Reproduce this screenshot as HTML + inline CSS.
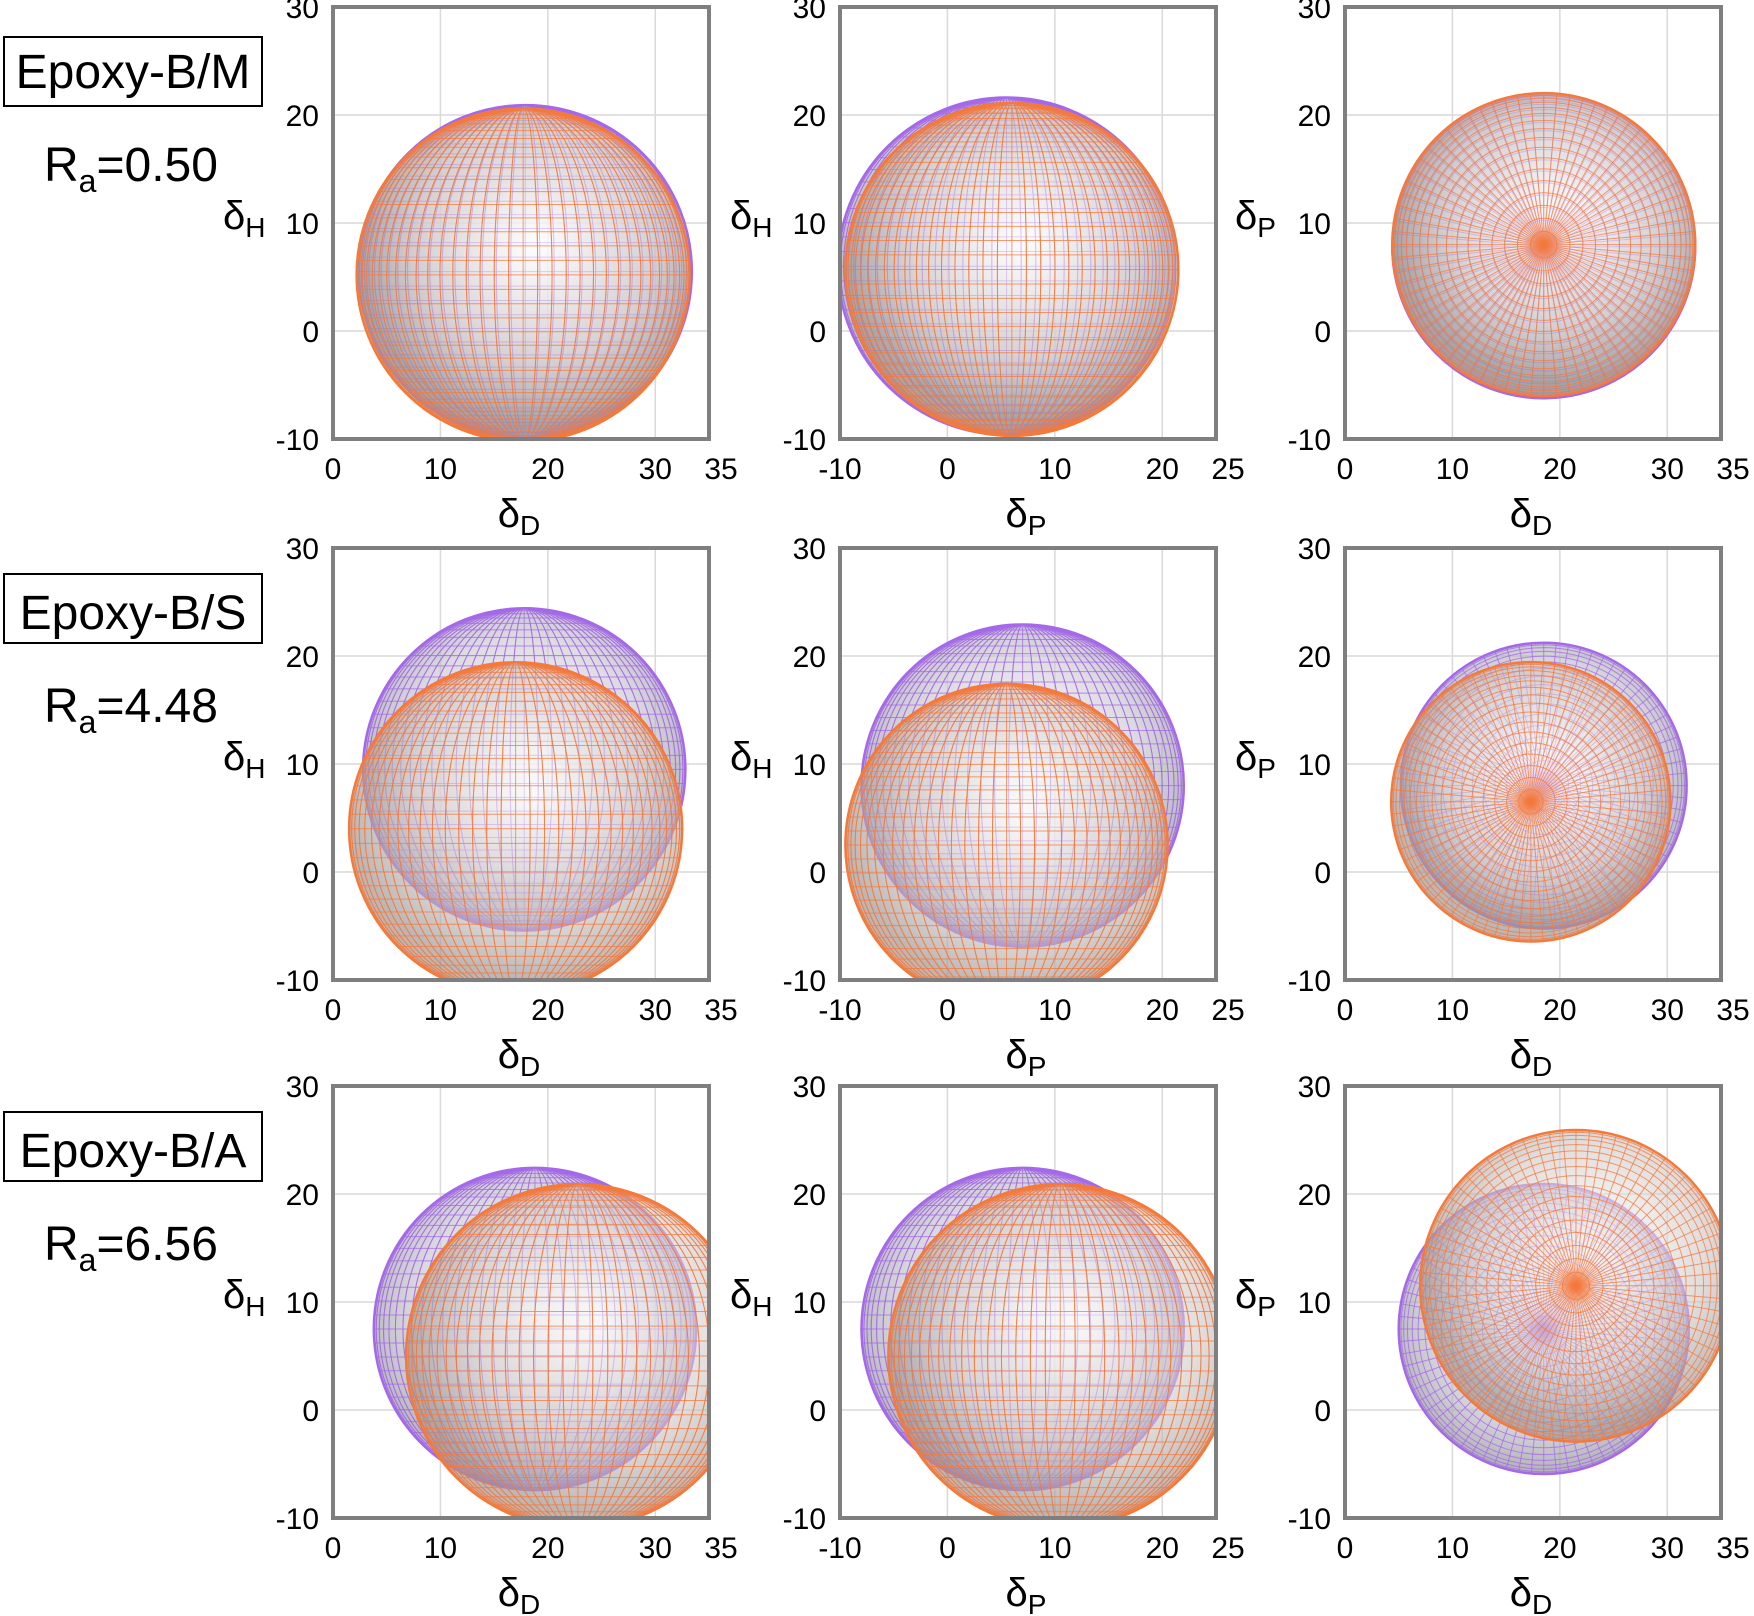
<!DOCTYPE html>
<html><head><meta charset="utf-8">
<style>
html,body{margin:0;padding:0;background:#fff;}
svg{display:block;font-family:"Liberation Sans",sans-serif;}
</style></head>
<body>
<svg id="fig" width="1754" height="1616" viewBox="0 0 1754 1616">
<defs>
<radialGradient id="gP" cx="0.5" cy="0.45" r="0.55">
<stop offset="0" stop-color="#ffffff" stop-opacity="0.6"/>
<stop offset="0.65" stop-color="#c8c4d0" stop-opacity="0.6"/>
<stop offset="1" stop-color="#909098" stop-opacity="0.7"/>
</radialGradient>
<radialGradient id="gO" cx="0.55" cy="0.4" r="0.55">
<stop offset="0" stop-color="#ffffff" stop-opacity="0.6"/>
<stop offset="0.65" stop-color="#d0c8c8" stop-opacity="0.6"/>
<stop offset="1" stop-color="#a09898" stop-opacity="0.7"/>
</radialGradient>
</defs>
</svg>
<script>
// ----- data -----
const rowNames = ["Epoxy-B/M","Epoxy-B/S","Epoxy-B/A"];
const raValues = ["0.50","4.48","6.56"];
const yTicks = [-10,0,10,20,30];
const xTicksD = [0,10,20,30,35];
const xTicksP = [-10,0,10,20,25];
// per panel [row][col]: sphere centre x, centre y, radius
const purpleCx = [[17.9,5.5,18.5],[17.8,7.0,18.5],[18.8,7.0,18.5]];
const purpleCy = [[5.5,6.0,7.8],[9.5,8.0,8.0],[7.5,7.5,7.5]];
const purpleR  = [[15.5,15.7,14.1],[15.0,15.0,13.3],[15.0,15.0,13.5]];
const orangeCx = [[17.7,6.0,18.5],[17.0,5.5,17.3],[22.8,10.5,21.5]];
const orangeCy = [[5.2,5.7,8.0],[4.0,2.5,6.5],[5.0,5.0,11.5]];
const orangeR  = [[15.5,15.5,14.1],[15.5,15.0,13.0],[16.0,16.0,14.5]];

const NS="http://www.w3.org/2000/svg";
const svg=document.getElementById('fig');
function mk(tag,attrs,parent){const e=document.createElementNS(NS,tag);for(const k in attrs)e.setAttribute(k,attrs[k]);(parent||svg).appendChild(e);return e;}

const colL=[333,840,1345], rowT=[7,548,1086], W=376, H=432;
const xDom=[[0,35],[-10,25],[0,35]];
const xTitles=[["δ","D"],["δ","P"],["δ","D"]];
const yTitles=[["δ","H"],["δ","H"],["δ","P"]];

function drawSphere(g,sx,sy,cx,cy,r,color,grad,top,name){
  const X=sx(cx),Y=sy(cy),R=sx(cx+r)-X;
  const sg=mk('g',{},g);
  
  
  mk('circle',{cx:X,cy:Y,r:R,fill:'url(#'+grad+')'},sg);
  const N=36;
  const ln=mk('g',{stroke:color,'stroke-width':1,'stroke-opacity':0.75,fill:'none'},sg);
  if(!top){
    for(let k=1;k<N;k++){
      const phi=k*Math.PI/N;
      mk('ellipse',{cx:X,cy:Y,rx:Math.abs(R*Math.cos(phi)),ry:R},ln);
      const yy=Y+R*Math.cos(phi), hw=R*Math.sin(phi);
      mk('line',{x1:X-hw,y1:yy,x2:X+hw,y2:yy},ln);
    }
  } else {
    for(let k=1;k<=N/2;k++){
      mk('circle',{cx:X,cy:Y,r:R*Math.sin(k*Math.PI/N)},ln);
    }
    for(let k=0;k<N*2;k++){
      const a=k*Math.PI/N;
      mk('line',{x1:X,y1:Y,x2:X+R*Math.cos(a),y2:Y+R*Math.sin(a)},ln);
    }
  }
  mk('circle',{cx:X,cy:Y,r:R,fill:'none',stroke:color,'stroke-width':2.5},sg);
}

for(let r=0;r<3;r++){
  const lb=mk('rect',{x:4,y:rowT[r]+30+(r==0?0:-4),width:258,height:69,fill:'#fff',stroke:'#000','stroke-width':2});
  
  
  const lt=mk('text',{x:133,y:rowT[r]+81,'font-size':48,'text-anchor':'middle',fill:'#000'});
  lt.textContent=rowNames[r];
  
  
  const ra=mk('text',{x:44,y:rowT[r]+174,'font-size':48,fill:'#000'});
  ra.innerHTML='R<tspan font-size="32" dy="11">a</tspan><tspan dy="-11">='+raValues[r]+'</tspan>';
  
  

  for(let c=0;c<3;c++){
    const L=colL[c],T=rowT[r];
    const d=xDom[c];
    const sx=v=>L+(v-d[0])/(d[1]-d[0])*W;
    const sy=v=>T+H-(v+10)/40*H;
    const g=mk('g',{});
    
    
    const cid='clip'+r+c;
    const cp=mk('clipPath',{id:cid},g);
    mk('rect',{x:L,y:T,width:W,height:H},cp);
    const xt=c==1?xTicksP:xTicksD;
    for(const v of xt){ mk('line',{x1:sx(v),y1:T,x2:sx(v),y2:T+H,stroke:'#d9d9d9','stroke-width':1.5},g); }
    for(const v of yTicks){ mk('line',{x1:L,y1:sy(v),x2:L+W,y2:sy(v),stroke:'#d9d9d9','stroke-width':1.5},g); }
    const sp=mk('g',{'clip-path':'url(#'+cid+')'},g);
    const top=(c==2);
    drawSphere(sp,sx,sy,purpleCx[r][c],purpleCy[r][c],purpleR[r][c],'#a468e8','gP',top,'sphere-purple');
    drawSphere(sp,sx,sy,orangeCx[r][c],orangeCy[r][c],orangeR[r][c],'#f47a3c','gO',top,'sphere-orange');
    const fr=mk('rect',{x:L,y:T,width:W,height:H,fill:'none',stroke:'#7f7f7f','stroke-width':4},g);
    
    
    for(const v of yTicks){
      const t=mk('text',{x:L-14,y:sy(v)+11,'font-size':30,'text-anchor':'end',fill:'#000'},g);
      t.textContent=v;
      
      
    }
    for(const v of xt){
      const t=mk('text',{x:sx(v)+(v==xt[xt.length-1]?12:0),y:T+H+40,'font-size':30,'text-anchor':'middle',fill:'#000'},g);
      t.textContent=v;
      
      
    }
    const xtl=mk('text',{x:L+W/2-2,y:T+H+88,'font-size':40,'text-anchor':'middle',fill:'#000'},g);
    xtl.innerHTML=xTitles[c][0]+'<tspan font-size="28" dy="8">'+xTitles[c][1]+'</tspan>';
    
    
    const ytl=mk('text',{x:L-110,y:T+222,'font-size':40,fill:'#000'},g);
    ytl.innerHTML=yTitles[c][0]+'<tspan font-size="28" dy="8">'+yTitles[c][1]+'</tspan>';
    
    
  }
}
</script>
</body></html>
